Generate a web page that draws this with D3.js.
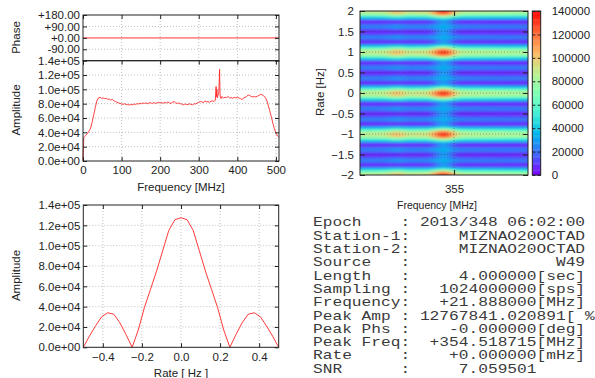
<!DOCTYPE html>
<html><head><meta charset="utf-8">
<script src="https://cdn.jsdelivr.net/npm/d3@7"></script>
<style>
html,body{margin:0;padding:0;background:#fff;}
svg{display:block;}
text{font-family:"Liberation Sans",Arial,sans-serif;fill:#222;}
.mono{font-family:"Liberation Mono","Courier New",monospace;white-space:pre;fill:#3a3a3a;}
</style></head>
<body>
<svg id="c" width="595" height="378"></svg>
<script>
// ---------------- DATA ----------------
// Spectrum (top-left): frequency [MHz] and amplitude
const specFreq = [0,2,4,8,12,16,20,24,28,32,36,40,44,48,52,56,60,64,68,72,76,80,84,88,92,96,100,104,108,112,116,120,124,128,132,136,140,144,148,152,156,160,164,168,172,176,180,184,188,192,196,200,204,208,212,216,220,224,228,232,236,240,244,248,252,256,260,264,268,272,276,280,284,288,292,296,300,304,308,312,316,320,324,328,332,336,340,343,344,345,346,347,348,350,352,353,354,355,356,358,360,364,368,372,376,380,384,388,392,396,400,404,408,412,416,420,424,428,432,436,440,444,448,452,456,460,464,468,472,476,480,484,488,492,496,500,504,508];
const specAmp = [0,33000,34000,36000,39000,42000,46000,55000,65000,75000,84000,88000,89000,87500,88000,87000,87500,86000,86500,85000,86000,84000,83000,82000,81000,80500,79500,79000,80000,78500,79000,78000,79000,78500,79500,79000,80000,79500,80500,80000,81000,80500,81000,80000,81500,81000,80500,81500,80500,81000,82000,81000,81500,80500,82000,81000,82500,81000,80500,82000,83000,81000,80500,81000,80000,79500,78500,79500,79000,78500,80000,79000,78500,80000,79500,81000,82000,83000,82500,81500,84000,82500,83000,82000,83500,84000,83000,85000,96000,104000,90000,100000,88000,92000,95000,110000,128000,96000,88000,87000,90000,88000,89000,88500,90000,88000,88500,87500,89000,88000,89000,88000,87500,85500,88000,89000,90000,92000,91500,90000,89500,90000,89500,90500,91500,93000,92500,91000,89000,85000,78000,70000,62000,53000,45000,39000,35000,33000];
// Phase (top-left, upper panel)
const phaseFreq = [0, 508];
const phaseVal = [0, 0];
const freqTicks = [0,100,200,300,400,500];
const phaseTicks = [180,90,0,-90];
const ampTicks = [0,20000,40000,60000,80000,100000,120000,140000];

// Rate profile (bottom-left)
const rateX = [-0.5,-0.46875,-0.4375,-0.40625,-0.375,-0.34375,-0.3125,-0.28125,-0.25,-0.21875,-0.1875,-0.15625,-0.125,-0.09375,-0.0625,-0.03125,0,0.03125,0.0625,0.09375,0.125,0.15625,0.1875,0.21875,0.25,0.28125,0.3125,0.34375,0.375,0.40625,0.4375,0.46875,0.5];
const rateAmp = [0,11000,21000,30000,34000,32500,24000,12500,0,17000,39000,57000,75000,95000,115000,125500,127500,125500,115000,95000,75000,57000,39000,17000,0,12500,24000,32500,34000,30000,21000,11000,0];
const rateTicks = [-0.4,-0.2,0,0.2,0.4];

// Fringe search map (top-right)
const heatFreq = [350.5,350.75,351,351.25,351.5,351.75,352,352.25,352.5,352.75,353,353.25,353.5,353.75,354,354.25,354.5,354.75,355,355.25,355.5,355.75,356,356.25,356.5,356.75,357,357.25,357.5,357.75,358,358.25,358.5];
const heatMain = [87000,87000,88000,88000,89000,93000,100000,104000,99000,92000,91000,94000,92000,96000,110000,126000,133000,124000,104000,90000,87000,86000,86000,85000,85000,85000,84000,84000,84000,83000,83000,83000,83000];
const heatFloor = [5000,5000,5000,5000,5000,5000,5000,5000,5000,5000,5000,5000,5000,7000,14000,24000,30000,24000,14000,7000,5000,5000,5000,5000,5000,5000,5000,5000,5000,5000,5000,5000,5000];
const heatRateTicks = [2,1.5,1,0.5,0,-0.5,-1,-1.5,-2];
const heatFreqTicks = [355];
const cbTicks = [0,20000,40000,60000,80000,100000,120000,140000];

// Info text (bottom-right)
const infoLines = [
 "Epoch    : 2013/348 06:02:00",
 "Station-1:     MIZNAO20OCTAD",
 "Station-2:     MIZNAO20OCTAD",
 "Source   :               W49",
 "Length   :     4.000000[sec]",
 "Sampling :   1024000000[sps]",
 "Frequency:   +21.888000[MHz]",
 "Peak Amp : 12767841.020891[ %",
 "Peak Phs :    -0.000000[deg]",
 "Peak Freq:  +354.518715[MHz]",
 "Rate     :    +0.000000[mHz]",
 "SNR      :     7.059501"
];

// ---------------- DRAW ----------------
const svg = d3.select("#c");
const fmtE = v => { if (v === 0) return "0.0e+00"; const [m,e] = v.toExponential(1).split("e"); return m + "e" + e[0] + e.slice(1).padStart(2,"0"); };
const fmtPh = v => (v >= 0 ? "+" : "") + v.toFixed(2);
const gridStyle = s => s.attr("stroke","#b0b0b0").attr("stroke-width",0.8).attr("stroke-dasharray","1,2");

function frame(x0,y0,x1,y1){
  svg.append("rect").attr("x",x0).attr("y",y0).attr("width",x1-x0).attr("height",y1-y0)
    .attr("fill","none").attr("stroke","#222").attr("stroke-width",1);
}
function styleAxis(g,size){
  g.select(".domain").remove();
  g.selectAll(".tick line").attr("stroke","#222");
  g.selectAll(".tick text").attr("font-size",size||11.5).attr("fill","#222")
   .attr("font-family",'"Liberation Sans",Arial,sans-serif');
}

// ----- Top-left -----
const L = 83, R = 279, phT = 15, phB = 60.7, amB = 161;
const xF = d3.scaleLinear().domain([0,508]).range([L,R]);
const yPh = d3.scaleLinear().domain([-180,180]).range([phB,phT]);
const yA = d3.scaleLinear().domain([0,140000]).range([amB,phB]);

svg.append("g").selectAll("line").data(freqTicks.filter(d=>d>0)).join("line")
  .attr("x1",d=>xF(d)).attr("x2",d=>xF(d)).attr("y1",phT).attr("y2",amB).call(gridStyle);
svg.append("g").selectAll("line").data(phaseTicks.filter(d=>d<180)).join("line")
  .attr("x1",L).attr("x2",R).attr("y1",d=>yPh(d)).attr("y2",d=>yPh(d)).call(gridStyle);
svg.append("g").selectAll("line").data(ampTicks.filter(d=>d>0&&d<140000)).join("line")
  .attr("x1",L).attr("x2",R).attr("y1",d=>yA(d)).attr("y2",d=>yA(d)).call(gridStyle);

svg.append("path").datum(phaseFreq.map((f,i)=>[f,phaseVal[i]]))
  .attr("d",d3.line().x(d=>xF(d[0])).y(d=>yPh(d[1])))
  .attr("fill","none").attr("stroke","#ff8c8c").attr("stroke-width",1.6);
svg.append("path").datum(specFreq.map((f,i)=>[f,specAmp[i]]))
  .attr("d",d3.line().x(d=>xF(d[0])).y(d=>yA(d[1])))
  .attr("fill","none").attr("stroke","#ff2a2a").attr("stroke-width",0.9);

styleAxis(svg.append("g").attr("transform",`translate(${L},0)`)
  .call(d3.axisLeft(yPh).tickValues(phaseTicks).tickFormat(fmtPh).tickSizeInner(-4).tickSizeOuter(0).tickPadding(3)));
styleAxis(svg.append("g").attr("transform",`translate(${R},0)`)
  .call(d3.axisRight(yPh).tickValues(phaseTicks).tickFormat("").tickSizeInner(-4).tickSizeOuter(0)));
styleAxis(svg.append("g").attr("transform",`translate(${L},0)`)
  .call(d3.axisLeft(yA).tickValues(ampTicks).tickFormat(fmtE).tickSizeInner(-4).tickSizeOuter(0).tickPadding(3)));
styleAxis(svg.append("g").attr("transform",`translate(${R},0)`)
  .call(d3.axisRight(yA).tickValues(ampTicks).tickFormat("").tickSizeInner(-4).tickSizeOuter(0)));
styleAxis(svg.append("g").attr("transform",`translate(0,${amB})`)
  .call(d3.axisBottom(xF).tickValues(freqTicks).tickFormat(d3.format("d")).tickSizeInner(-4).tickSizeOuter(0).tickPadding(5)));
styleAxis(svg.append("g").attr("transform",`translate(0,${phB})`)
  .call(d3.axisTop(xF).tickValues(freqTicks).tickFormat("").tickSizeInner(-4).tickSizeOuter(0)));
styleAxis(svg.append("g").attr("transform",`translate(0,${phT})`)
  .call(d3.axisTop(xF).tickValues(freqTicks).tickFormat("").tickSizeInner(-4).tickSizeOuter(0)));
frame(L,phT,R,phB); frame(L,phB,R,amB);
svg.append("text").attr("transform","translate(20,37.5) rotate(-90)").attr("text-anchor","middle").attr("font-size",11.5).text("Phase");
svg.append("text").attr("transform","translate(20,110) rotate(-90)").attr("text-anchor","middle").attr("font-size",11.5).text("Amplitude");
svg.append("text").attr("x",181).attr("y",191).attr("text-anchor","middle").attr("font-size",11.5).text("Frequency [MHz]");

// ----- Bottom-left -----
const bT = 205, bB = 347.3, bL = 83.3, bR = 278.7;
const xR = d3.scaleLinear().domain([-0.5,0.5]).range([bL,bR]);
const yR = d3.scaleLinear().domain([0,140000]).range([bB,bT]);
svg.append("g").selectAll("line").data(rateTicks).join("line")
  .attr("x1",d=>xR(d)).attr("x2",d=>xR(d)).attr("y1",bT).attr("y2",bB).call(gridStyle);
svg.append("g").selectAll("line").data(ampTicks.filter(d=>d>0&&d<140000)).join("line")
  .attr("x1",bL).attr("x2",bR).attr("y1",d=>yR(d)).attr("y2",d=>yR(d)).call(gridStyle);
svg.append("path").datum(rateX.map((r,i)=>[r,rateAmp[i]]))
  .attr("d",d3.line().x(d=>xR(d[0])).y(d=>yR(d[1])))
  .attr("fill","none").attr("stroke","#ff3a3a").attr("stroke-width",1);
styleAxis(svg.append("g").attr("transform",`translate(${bL},0)`)
  .call(d3.axisLeft(yR).tickValues(ampTicks).tickFormat(fmtE).tickSizeInner(-4).tickSizeOuter(0).tickPadding(3)));
styleAxis(svg.append("g").attr("transform",`translate(${bR},0)`)
  .call(d3.axisRight(yR).tickValues(ampTicks).tickFormat("").tickSizeInner(-4).tickSizeOuter(0)));
styleAxis(svg.append("g").attr("transform",`translate(0,${bB})`)
  .call(d3.axisBottom(xR).tickValues(rateTicks).tickFormat(d3.format(".1f")).tickSizeInner(-4).tickSizeOuter(0).tickPadding(6)));
styleAxis(svg.append("g").attr("transform",`translate(0,${bT})`)
  .call(d3.axisTop(xR).tickValues(rateTicks).tickFormat("").tickSizeInner(-4).tickSizeOuter(0)));
frame(bL,bT,bR,bB);
svg.append("text").attr("transform","translate(20,275.5) rotate(-90)").attr("text-anchor","middle").attr("font-size",11.5).text("Amplitude");
svg.append("text").attr("x",181).attr("y",377).attr("text-anchor","middle").attr("font-size",11.5).text("Rate [ Hz ]");

// ----- Top-right heat map -----
const hL = 360, hR = 528, hT = 11, hB = 175;
const xH = d3.scaleLinear().domain([350.42,358.6]).range([hL,hR]);
const yH = d3.scaleLinear().domain([-2,2]).range([hB,hT]);
const norm = d3.scaleLinear().domain([0,140000]).range([0,1]).clamp(true);
const pal = v => { const x = norm(v);
  const c = t => Math.round(255*Math.max(0,Math.min(1,t)));
  return `rgb(${c(Math.abs(2*x-0.5))},${c(Math.sin(Math.PI*x))},${c(Math.cos(Math.PI*x/2))})`; };
const peakRate = d3.max(rateAmp);
const step = rateX[1]-rateX[0];
const rows = d3.range(-72,73).map(k=>k*step);
const cells = [];
heatFreq.forEach((f,i)=>{
  rows.forEach(r=>{
    const rr = r - Math.round(r);
    const idx = Math.round((rr - rateX[0])/step);
    const v = Math.max(heatMain[i]*rateAmp[idx]/peakRate, heatFloor[i]);
    cells.push({i,f,r,v});
  });
});
const defs = svg.append("defs");
defs.append("clipPath").attr("id","hclip").append("rect").attr("x",hL).attr("y",hT).attr("width",hR-hL).attr("height",hB-hT);
defs.append("filter").attr("id","hblur").attr("x","-10%").attr("y","-10%").attr("width","120%").attr("height","120%")
  .append("feGaussianBlur").attr("stdDeviation","2.4 0.9");
const cw = xH(heatFreq[1]) - xH(heatFreq[0]);
const rh = Math.abs(yH(step)-yH(0));
const hg = svg.append("g").attr("clip-path","url(#hclip)").append("g").attr("filter","url(#hblur)");
hg.selectAll("rect").data(cells).join("rect")
  .attr("x",d=> d.i===0 ? xH(d.f)-cw/2-12 : xH(d.f)-cw/2)
  .attr("width",d=> (d.i===0 || d.i===heatFreq.length-1) ? cw+12.6 : cw+0.6)
  .attr("y",d=>yH(d.r)-rh/2).attr("height",rh+0.5)
  .attr("fill",d=>pal(d.v));
svg.append("g").selectAll("line").data(heatRateTicks.filter(d=>d>-2&&d<2)).join("line")
  .attr("x1",hL).attr("x2",hR).attr("y1",d=>yH(d)).attr("y2",d=>yH(d))
  .attr("stroke","#333").attr("stroke-opacity",0.5).attr("stroke-width",0.8).attr("stroke-dasharray","1,2");
svg.append("g").selectAll("line").data(heatFreqTicks).join("line")
  .attr("x1",d=>xH(d)).attr("x2",d=>xH(d)).attr("y1",hT).attr("y2",hB)
  .attr("stroke","#333").attr("stroke-opacity",0.5).attr("stroke-width",0.8).attr("stroke-dasharray","1,2");
styleAxis(svg.append("g").attr("transform",`translate(${hL},0)`)
  .call(d3.axisLeft(yH).tickValues(heatRateTicks).tickFormat(d3.format("")).tickSizeInner(-5).tickSizeOuter(0).tickPadding(6)));
styleAxis(svg.append("g").attr("transform",`translate(${hR},0)`)
  .call(d3.axisRight(yH).tickValues(heatRateTicks).tickFormat("").tickSizeInner(-5).tickSizeOuter(0)));
styleAxis(svg.append("g").attr("transform",`translate(0,${hB})`)
  .call(d3.axisBottom(xH).tickValues(heatFreqTicks).tickFormat(d3.format("d")).tickSizeInner(-5).tickSizeOuter(0).tickPadding(10)));
styleAxis(svg.append("g").attr("transform",`translate(0,${hT})`)
  .call(d3.axisTop(xH).tickValues(heatFreqTicks).tickFormat("").tickSizeInner(-5).tickSizeOuter(0)));
frame(hL,hT,hR,hB);
svg.append("text").attr("transform","translate(324,92) rotate(-90)").attr("text-anchor","middle").attr("font-size",11.5).text("Rate [Hz]");
svg.append("text").attr("x",437).attr("y",209).attr("text-anchor","middle").attr("font-size",10.5).text("Frequency [MHz]");

// colorbar
const cL = 532.3, cR = 540.7;
const yC = d3.scaleLinear().domain([0,140000]).range([hB,hT]);
const cbVals = d3.range(0,140000,1000);
svg.append("g").selectAll("rect").data(cbVals).join("rect")
  .attr("x",cL).attr("width",cR-cL).attr("y",d=>yC(d+1000)).attr("height",Math.abs(yC(1000)-yC(0))+0.4)
  .attr("fill",d=>pal(d+500));
styleAxis(svg.append("g").attr("transform",`translate(${cR},0)`)
  .call(d3.axisRight(yC).tickValues(cbTicks).tickFormat(d3.format("d")).tickSizeInner(-3).tickSizeOuter(0).tickPadding(11)));
styleAxis(svg.append("g").attr("transform",`translate(${cL},0)`)
  .call(d3.axisLeft(yC).tickValues(cbTicks).tickFormat("").tickSizeInner(-3).tickSizeOuter(0)));
frame(cL,hT,cR,hB);

// ----- Info text -----
const sx = 1.35, tx = 313, ty0 = 226.5, dy = 13.3;
const tg = svg.append("g").attr("transform",`scale(${sx},1)`);
tg.selectAll("text").data(infoLines).join("text").attr("class","mono")
  .attr("x",tx/sx).attr("y",(d,i)=>ty0+i*dy).attr("font-size",12).text(d=>d);
</script>
</body></html>
